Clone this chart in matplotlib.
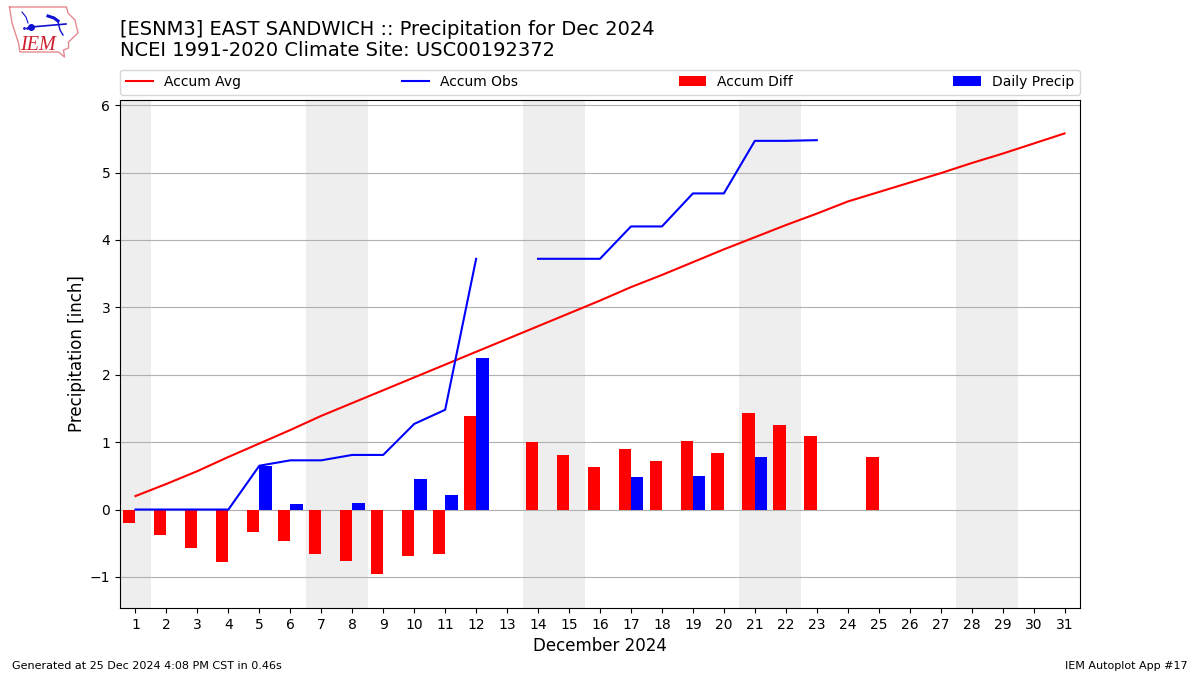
import numpy as np
import matplotlib
matplotlib.use("Agg")
import matplotlib.pyplot as plt

days = list(range(1, 32))
accum_avg = [0.20, 0.38, 0.57, 0.78, 0.98, 1.18, 1.39, 1.58, 1.77, 1.96, 2.15, 2.34, 2.53, 2.72, 2.91, 3.10,
             3.30, 3.48, 3.67, 3.86, 4.04, 4.22, 4.39, 4.57, 4.71, 4.85, 4.99, 5.14, 5.28, 5.43, 5.58]
accum_obs = [0, 0, 0, 0, 0.65, 0.73, 0.73, 0.81, 0.81, 1.27, 1.48, 3.72, np.nan, 3.72, 3.72, 3.72,
             4.20, 4.20, 4.69, 4.69, 5.47, 5.47, 5.48]
accum_diff = [-0.20, -0.38, -0.57, -0.78, -0.33, -0.46, -0.66, -0.77, -0.96, -0.69, -0.66, 1.39, 0, 1.00, 0.81, 0.63,
              0.90, 0.72, 1.02, 0.84, 1.43, 1.25, 1.09, 0, 0.78]
daily_precip = [0, 0, 0, 0, 0.65, 0.08, 0, 0.09, 0, 0.46, 0.21, 2.25, 0, 0, 0, 0,
                0.48, 0, 0.50, 0, 0.78, 0, 0]
weekends = [(0.5, 1.5), (6.5, 8.5), (13.5, 15.5), (20.5, 22.5), (27.5, 29.5)]

# rough copy of the IEM state logo
iowa_x = [9.5, 66.5, 68, 75, 78, 68.5, 68.5, 63.5, 64.5, 58.5, 20, 18.5, 12, 9.5]
iowa_y = [7, 7, 13, 20, 33, 42, 48, 50, 57, 52, 52, 43, 23, 7]

fig = plt.figure(figsize=(12, 6.75), dpi=100)
ax = fig.add_axes([120 / 1200, 1 - 608 / 675, 960 / 1200, 508 / 675])

for start, end in weekends:
    ax.axvspan(start, end, color="#eeeeee", lw=0, zorder=0)

ax.plot(days, accum_avg, color="r", label="Accum Avg")
ax.plot(days[:len(accum_obs)], accum_obs, color="b", label="Accum Obs")
ax.bar(days[:len(accum_diff)], accum_diff, width=-0.4, align="edge", color="r", label="Accum Diff")
ax.bar(days[:len(daily_precip)], daily_precip, width=0.4, align="edge", color="b", label="Daily Precip")

ax.set_axisbelow(True)
ax.grid(axis="y")
ax.set_xlim(0.5, 31.5)
ax.set_ylim(-1.461, 6.076)
ax.set_xticks(days)
ax.set_yticks(range(-1, 7))
ax.set_xlabel("December 2024", fontsize=12)
ax.set_ylabel("Precipitation [inch]", fontsize=12, labelpad=2.5)
ax.legend(ncol=4, mode="expand", loc="lower left", bbox_to_anchor=(0, 1.0105, 1, 0.05), borderaxespad=0)

fig.text(120 / 1200, 1 - 59.5 / 675, "[ESNM3] EAST SANDWICH :: Precipitation for Dec 2024\nNCEI 1991-2020 Climate Site: USC00192372",
         fontsize=14, ha="left", va="bottom", linespacing=1.12)
fig.text(12 / 1200, 1 - 671 / 675, "Generated at 25 Dec 2024 4:08 PM CST in 0.46s", fontsize=8, ha="left", va="bottom")
fig.text(1188 / 1200, 1 - 671 / 675, "IEM Autoplot App #17", fontsize=8, ha="right", va="bottom")

logo = fig.add_axes([0, 1 - 60 / 675, 80 / 1200, 60 / 675])
logo.set_xlim(0, 80)
logo.set_ylim(60, 0)
logo.axis("off")
logo.plot(iowa_x, iowa_y, color="#e58a90", lw=1)
logo.plot([31, 66], [27, 24], color="#1010d0", lw=1.2)
logo.plot([31], [27], "o", color="#1010d0", ms=4)
logo.plot([48, 54, 58], [16, 18, 21], color="#1010d0", lw=2.2)
logo.plot([58, 60, 63], [22, 30, 35], color="#1010d0", lw=1)
logo.plot([22, 26, 28], [12, 17, 23], color="#1010d0", lw=0.8)
logo.plot([24, 27], [28, 28], ".", color="#1010d0", ms=2)
logo.text(20.5, 45, "IEM", color="#d02030", fontsize=14.5, family="Liberation Serif", style="italic", va="center")

fig.savefig("out.png", dpi=100)
